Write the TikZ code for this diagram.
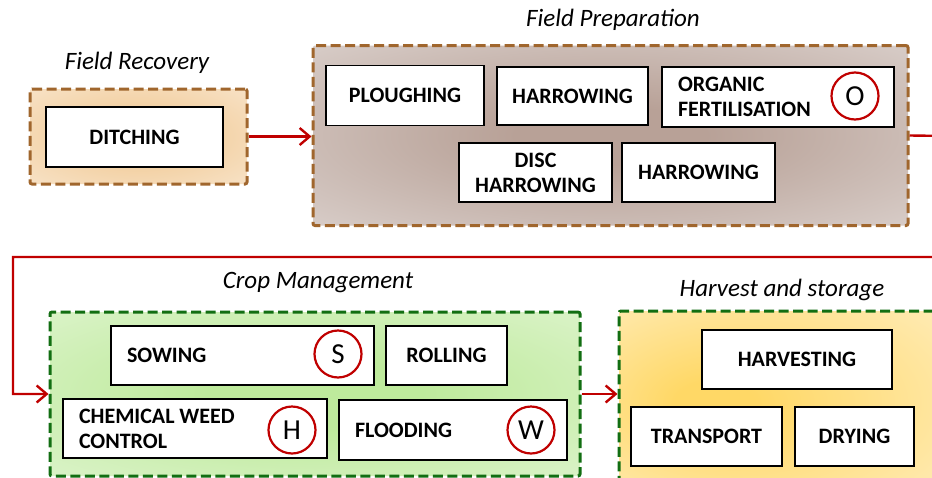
\documentclass[tikz,border=0pt]{standalone}
\usepackage{fontspec}
\setmainfont{Carlito}
\usetikzlibrary{arrows.meta}
\definecolor{myred}{RGB}{192,0,0}
\definecolor{brownb}{RGB}{160,102,45}
\definecolor{greenb}{RGB}{18,110,18}
\definecolor{recA}{RGB}{242,206,158}
\definecolor{recB}{RGB}{251,238,222}
\definecolor{prepA}{RGB}{184,161,151}
\definecolor{prepB}{RGB}{232,227,225}
\definecolor{cropA}{RGB}{190,234,156}
\definecolor{cropB}{RGB}{234,248,224}
\definecolor{harvA}{RGB}{255,216,102}
\definecolor{harvB}{RGB}{255,243,214}
\pgfdeclareradialshading{recsh}{\pgfpoint{0bp}{0bp}}{color(0bp)=(recA); color(12bp)=(recA); color(50bp)=(recB)}
\pgfdeclareradialshading{prepsh}{\pgfpoint{0bp}{0bp}}{color(0bp)=(prepA); color(8bp)=(prepA); color(50bp)=(prepB)}
\pgfdeclareradialshading{cropsh}{\pgfpoint{0bp}{0bp}}{color(0bp)=(cropA); color(10bp)=(cropA); color(50bp)=(cropB)}
\pgfdeclareradialshading{harvsh}{\pgfpoint{-12bp}{0bp}}{color(0bp)=(harvA); color(6bp)=(harvA); color(50bp)=(harvB)}
\tikzset{
  grp/.style={rectangle, line width=3pt, dash pattern=on 10pt off 4.5pt, rounded corners=2pt, inner sep=0pt},
  plain/.style={rectangle, draw=black, line width=1.2pt, fill=white, minimum height=59pt, inner sep=0pt,
     font=\fontsize{22}{25}\selectfont\bfseries, align=center},
  lefttext/.style={plain, align=left, inner xsep=16pt},
  badge/.style={circle, draw=myred, line width=2.2pt, minimum size=47pt, inner sep=0pt, fill=white,
     font=\fontsize{29}{30}\selectfont},
  grplabel/.style={font=\fontsize{25}{28}\selectfont\itshape, inner sep=0pt},
  redline/.style={draw=myred, line width=2.4pt},
  redarrow/.style={redline, -{Straight Barb[length=10pt,width=17pt]}},
}
\begin{document}
\begin{tikzpicture}[x=1pt,y=-1pt]
\useasboundingbox (0,0) rectangle (932,477);
\clip (0,0) rectangle (932,477);
\fill[white] (0,0) rectangle (932,477);
% groups
\node[grp, draw=brownb, shading=recsh, minimum width=217pt, minimum height=95pt] (recov) at (138.5,136.5) {};
\node[grp, draw=brownb, shading=prepsh, minimum width=595pt, minimum height=180pt] (prep) at (610.5,135.5) {};
\node[grp, draw=greenb, shading=cropsh, minimum width=530pt, minimum height=164pt] (crop) at (315,394) {};
\node[grp, draw=greenb, shading=harvsh, minimum width=331pt, minimum height=184pt] (harv) at (784.5,403) {};
% labels
\node[grplabel] (lrecov) at (137,63) {Field Recovery};
\node[grplabel] (lprep) at (613,20) {Field Preparation};
\node[grplabel] (lcrop) at (318,283) {Crop Management};
\node[grplabel] (lharv) at (782,290) {Harvest and storage};
% boxes
\node[plain, minimum width=177pt, minimum height=60pt] (ditch) at (134.5,137) {DITCHING};
\node[plain, minimum width=158pt, minimum height=60pt] (plough) at (405,95.5) {PLOUGHING};
\node[plain, minimum width=151pt, minimum height=58pt] (harrow1) at (572.5,96) {HARROWING};
\node[lefttext, text width=200pt, minimum height=60pt] (organic) at (778,97) {ORGANIC\\FERTILISATION};
\node[plain, minimum width=153pt] (disc) at (535.5,172.5) {DISC\\HARROWING};
\node[plain, minimum width=153pt] (harrow2) at (698.5,172.5) {HARROWING};
\node[lefttext, text width=231pt] (sow) at (242.5,355.5) {SOWING};
\node[plain, minimum width=121pt] (roll) at (446.5,355.5) {ROLLING};
\node[lefttext, text width=232pt] (chem) at (195,428.5) {CHEMICAL\kern0.22em WEED\\CONTROL};
\node[lefttext, text width=196pt, minimum height=60pt] (flood) at (453,430) {FLOODING};
\node[plain, minimum width=190pt] (harvest) at (797,359.5) {HARVESTING};
\node[plain, minimum width=151pt] (transport) at (706.5,436.5) {TRANSPORT};
\node[plain, minimum width=119pt] (dry) at (854.5,436.5) {DRYING};
% badges
\node[badge] (bO) at (855,96) {O};
\node[badge] (bS) at (338,354) {S};
\node[badge] (bH) at (292,430) {H};
\node[badge] (bW) at (531,430) {W};
% connectors
\coordinate (c1) at (950,136);
\coordinate (c2) at (950,257);
\coordinate (c3) at (13,257);
\coordinate (c4) at (13,394);
\draw[redarrow] (recov.east) -- (recov.east -| prep.west);
\draw[redarrow] (prep.east) -- (c1) -- (c2) -- (c3) -- (c4) -- (crop.west);
\draw[redarrow] (crop.east) -- (crop.east -| harv.west);
\end{tikzpicture}
\end{document}
